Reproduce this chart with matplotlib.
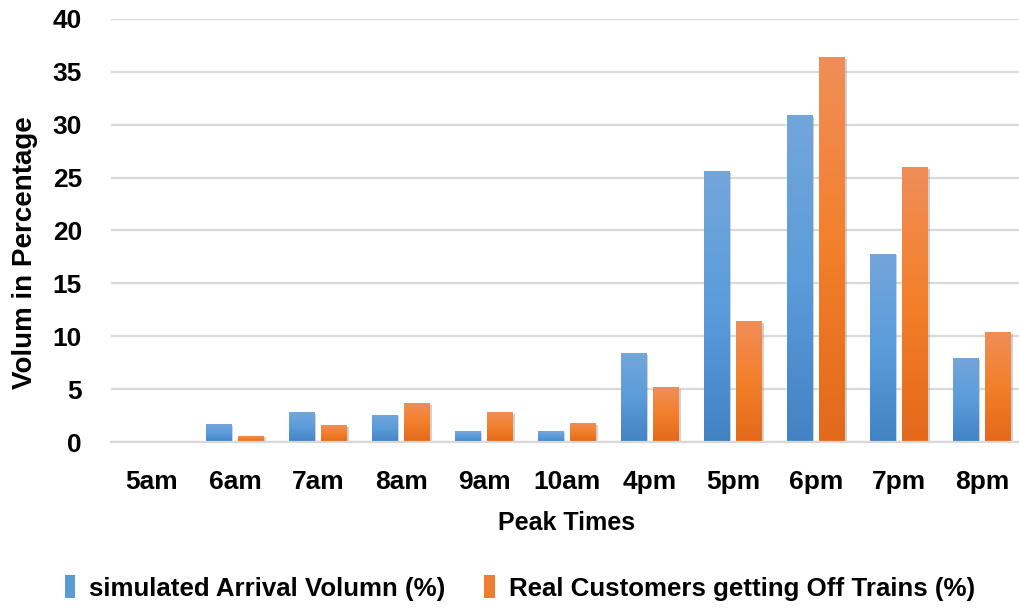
import numpy as np
import matplotlib
matplotlib.use("Agg")
import matplotlib.pyplot as plt
import matplotlib.patheffects as pe
from matplotlib.colors import LinearSegmentedColormap
from matplotlib.patches import Patch

# ---- data -------------------------------------------------------------
peak_times = ["5am", "6am", "7am", "8am", "9am", "10am",
              "4pm", "5pm", "6pm", "7pm", "8pm"]
simulated_arrival = [0.0, 1.7, 2.8, 2.6, 1.0, 1.0, 8.4, 25.6, 30.9, 17.8, 7.9]
real_off_trains = [0.0, 0.6, 1.6, 3.7, 2.8, 1.8, 5.2, 11.4, 36.4, 26.0, 10.4]
series_labels = ["simulated Arrival Volumn (%)",
                 "Real Customers getting Off Trains (%)"]
y_ticks = [0, 5, 10, 15, 20, 25, 30, 35, 40]

# ---- style ------------------------------------------------------------
plt.rcParams["font.family"] = ["Liberation Sans Narrow", "Liberation Sans", "DejaVu Sans"]
plt.rcParams["font.weight"] = "bold"

blue_grad = LinearSegmentedColormap.from_list(
    "blue_grad", ["#4183c3", "#5b9cdb", "#73a6da"])
orange_grad = LinearSegmentedColormap.from_list(
    "orange_grad", ["#e2691a", "#f37f2a", "#f08e58"])
blue_flat = "#5b9bd5"
orange_flat = "#ed7d31"
grid_color = "#d9d9d9"

W, H = 1019, 609
fig = plt.figure(figsize=(W / 100, H / 100), dpi=100)
fig.patch.set_facecolor("white")
ax = fig.add_axes([110.5 / W, (H - 442) / H, 913 / W, 423 / H])

x = np.arange(len(peak_times))
bar_w = 0.313
offset = 0.196

bars_a = ax.bar(x - offset, simulated_arrival, bar_w, zorder=2)
bars_b = ax.bar(x + offset, real_off_trains, bar_w, zorder=2)

shadow = [pe.SimplePatchShadow(offset=(1.2, -1.2), shadow_rgbFace="#9a9a9a", alpha=0.45)]
gradient = np.linspace(0, 1, 256).reshape(-1, 1)
for bars, cmap in ((bars_a, blue_grad), (bars_b, orange_grad)):
    for p in bars:
        p.set_facecolor("none")
        p.set_edgecolor("none")
        p.set_path_effects(shadow)
        if p.get_height() <= 0:
            continue
        x0, y0 = p.get_x(), p.get_y()
        im = ax.imshow(gradient, cmap=cmap, origin="lower", aspect="auto",
                       extent=[x0, x0 + p.get_width(), y0, y0 + p.get_height()],
                       zorder=2.5, interpolation="bicubic")
        im.set_clip_path(p)

ax.set_xlim(-0.5, len(peak_times) - 0.5)
ax.set_ylim(0, 40)
ax.set_yticks(y_ticks)
ax.set_xticks(x)
ax.set_xticklabels(peak_times)

ax.grid(axis="y", color=grid_color, linewidth=1.6, zorder=0)
ax.set_axisbelow(True)
for side in ("top", "right", "left"):
    ax.spines[side].set_visible(False)
ax.spines["bottom"].set_color(grid_color)
ax.spines["bottom"].set_linewidth(1.6)
ax.tick_params(length=0, labelsize=19)
ax.tick_params(axis="y", pad=20.5)
ax.tick_params(axis="x", pad=20)
for lbl in ax.get_xticklabels() + ax.get_yticklabels():
    lbl.set_fontweight("bold")

ax.set_xlabel("Peak Times", fontsize=18, fontweight="bold")
ax.xaxis.set_label_coords(0.5, (442 - 523) / 423)
ax.xaxis.label.set_va("center")
ax.set_ylabel("Volum in Percentage", fontsize=20, fontweight="bold")
ax.yaxis.set_label_coords((25 - 110.5) / 913, (442 - 253) / 423)
ax.yaxis.label.set_va("center")

handles = [Patch(facecolor=blue_flat), Patch(facecolor=orange_flat)]
fig.legend(handles, series_labels, loc="center", bbox_to_anchor=(520 / W, 1 - 588 / H),
           ncol=2, frameon=False, prop={"weight": "bold", "size": 18.6},
           handlelength=0.4, handleheight=1.0, handletextpad=0.55, columnspacing=1.5)

fig.savefig("out.png", dpi=100, facecolor="white")
